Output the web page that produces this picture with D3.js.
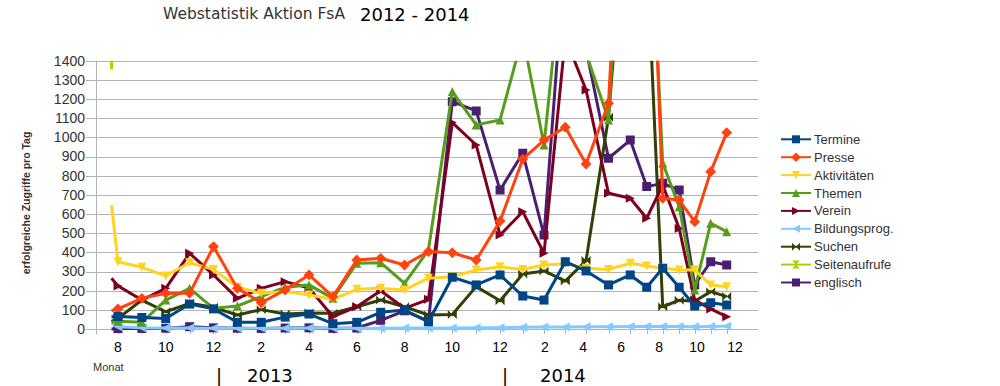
<!DOCTYPE html>
<meta charset="utf-8">
<style>
body { margin: 0; background: #fff; }
text { font-family: "Liberation Sans", Arial, sans-serif; }
.year { font-family: "DejaVu Sans", sans-serif; font-size: 18px; fill: #000; }
.grid line { stroke: #b3b3b3; stroke-width: 1px; }
.series path.line { fill: none; stroke-width: 3px; stroke-linejoin: round; }
</style>
<svg width="1000" height="386"></svg>
<script src="https://d3js.org/d3.v7.min.js"></script>
<script>

// position of each data point along the month axis (0 = Aug 2012)
var monthPos = [-0.27, 0, 1, 2, 3, 4, 5, 6, 7, 8, 9, 10, 11, 12, 13, 14, 15, 16,
    16.95, 17.84, 18.73, 19.6, 20.54, 21.45, 22.14, 22.81, 23.5, 24.15, 24.82, 25.49];

var tickPos = [0, 2, 4, 6, 8, 10, 12, 14, 16, 17.88, 19.48, 21.07, 22.66, 24.25, 25.84];
var tickLabels = ["8", "10", "12", "2", "4", "6", "8", "10", "12", "2", "4", "6", "8", "10", "12"];
var yTicks = d3.range(0, 1401, 100);

var names = ["Termine", "Presse", "Aktivitäten", "Themen", "Verein", "Bildungsprog.", "Suchen", "Seitenaufrufe", "englisch"];
var colors = ["#004586", "#ff420e", "#ffd320", "#579d1c", "#7e0021", "#83caff", "#314004", "#aecf00", "#4b1f6f"];
var shapes = ["square", "diamond", "down", "up", "right", "left", "bowtie", "hourglass", "square"];

var termine = [64, 65, 60, 55, 130, 105, 35, 35, 62, 78, 28, 35, 87, 99, 38, 270, 230, 282, 172, 151, 351, 303, 230, 282, 218, 317, 218, 120, 137, 125];
var presse = [95, 105, 160, 186, 186, 430, 212, 137, 204, 282, 169, 360, 369, 334, 404, 398, 360, 563, 886, 986, 1053, 861, 1178, 3300, 2900, 682, 673, 560, 821, 1025];
var aktivitaeten = [647, 351, 322, 277, 346, 311, 218, 186, 195, 177, 155, 207, 212, 204, 265, 273, 308, 325, 311, 334, 340, 317, 311, 343, 329, 317, 308, 308, 230, 221];
var themen = [35, 40, 35, 151, 212, 108, 120, 169, 218, 230, 160, 343, 346, 238, 412, 1239, 1065, 1091, 1530, 960, 2035, 1440, 1091, 3000, 2590, 866, 638, 204, 552, 508];
var verein = [265, 225, 151, 212, 395, 282, 160, 212, 247, 214, 64, 116, 200, 108, 155, 1077, 960, 490, 612, 395, 1520, 1247, 708, 682, 578, 751, 525, 151, 105, 64];
var bildung = [30, 12, 6, 5, 5, 4, 4, 4, 4, 5, 5, 4, 4, 5, 5, 5, 6, 7, 9, 10, 11, 12, 12, 13, 13, 13, 13, 12, 13, 15];
var suchen = [40, 55, 151, 90, 134, 113, 73, 101, 78, 84, 82, 116, 151, 116, 73, 76, 221, 147, 287, 303, 250, 357, 1105, 2500, 1985, 116, 150, 145, 195, 169];
var seitenaufrufe = [1355, 4200, 4100, 4300, 4500, 4400, 4600, 4500, 4700, 4800, 4600, 4900, 5000, 5100, 5200, 6400, 6200, 6300, 6800, 6500, 7000, 6900, 7200, 7600, 7400, 6800, 6600, 6000, 6200, 6300];
var englisch = [0, 2, 3, 4, 12, 6, 4, 3, 5, 6, 3, 5, 45, 95, 40, 1186, 1138, 725, 917, 490, 1970, 1460, 891, 986, 743, 760, 725, 230, 351, 334];

var values = [termine, presse, aktivitaeten, themen, verein, bildung, suchen, seitenaufrufe, englisch];

var svg = d3.select("svg");

var x = d3.scaleLinear().domain([-0.92, 26.8]).range([96, 758]);
var y = d3.scaleLinear().domain([0, 1400]).range([329, 60.7]);

function markerPath(kind, r) {
    switch (kind) {
        case "square": return "M" + -r + "," + -r + "h" + 2 * r + "v" + 2 * r + "h" + -2 * r + "Z";
        case "diamond": return "M0," + -r * 1.2 + "L" + r * 1.2 + ",0L0," + r * 1.2 + "L" + -r * 1.2 + ",0Z";
        case "down": return "M" + -r + "," + -r + "L" + r + "," + -r + "L0," + r + "Z";
        case "up": return "M" + -r + "," + r + "L" + r + "," + r + "L0," + -r + "Z";
        case "right": return "M" + -r + "," + -r + "L" + r + ",0L" + -r + "," + r + "Z";
        case "left": return "M" + r + "," + -r + "L" + -r + ",0L" + r + "," + r + "Z";
        case "bowtie": return "M" + -r + "," + -r + "L0,0L" + r + "," + -r + "L" + r + "," + r + "L0,0L" + -r + "," + r + "Z";
        case "hourglass": return "M" + -r + "," + -r + "L" + r + "," + -r + "L0,0L" + r + "," + r + "L" + -r + "," + r + "L0,0Z";
    }
}

// title
svg.append("text").attr("x", 163).attr("y", 18.5)
    .style("font-family", "'DejaVu Sans', sans-serif")
    .style("font-size", "15.5px").style("fill", "#333")
    .text("Webstatistik Aktion FsA");
svg.append("text").attr("class", "year").attr("x", 360).attr("y", 20.7).text("2012 - 2014");

// grid
svg.append("g").attr("class", "grid")
    .selectAll("line").data(yTicks).join("line")
    .attr("x1", 86).attr("x2", 758)
    .attr("y1", function(d) { return Math.round(y(d)) + 0.5; })
    .attr("y2", function(d) { return Math.round(y(d)) + 0.5; });

svg.append("line").attr("x1", 96.5).attr("x2", 96.5).attr("y1", y(1400)).attr("y2", 334)
    .style("stroke", "#b3b3b3");

svg.append("g").attr("class", "grid")
    .selectAll("line").data(monthPos.slice(1)).join("line")
    .attr("x1", function(d) { return Math.round(x(d)) + 0.5; })
    .attr("x2", function(d) { return Math.round(x(d)) + 0.5; })
    .attr("y1", 329).attr("y2", 334);

// y labels
svg.append("g").selectAll("text").data(yTicks).join("text")
    .attr("x", 85).attr("y", function(d) { return y(d); }).attr("dy", "0.35em")
    .attr("text-anchor", "end")
    .style("font-size", "14px").style("fill", "#333")
    .text(function(d) { return d; });

svg.append("text")
    .attr("transform", "translate(30,203) rotate(-90)")
    .attr("text-anchor", "middle")
    .style("font-size", "10.5px").style("font-weight", "bold").style("fill", "#333")
    .text("erfolgreiche Zugriffe pro Tag");

// x labels
svg.append("g").selectAll("text").data(tickPos).join("text")
    .attr("x", function(d) { return x(d); }).attr("y", 352)
    .attr("text-anchor", "middle")
    .style("font-size", "14px").style("fill", "#000")
    .text(function(d, i) { return tickLabels[i]; });

svg.append("text").attr("x", 93).attr("y", 370.5)
    .style("font-size", "11px").style("fill", "#333").text("Monat");

svg.append("text").attr("class", "year").attr("x", 219).attr("y", 382).attr("text-anchor", "middle").text("|");
svg.append("text").attr("class", "year").attr("x", 247).attr("y", 382).text("2013");
svg.append("text").attr("class", "year").attr("x", 505).attr("y", 382).attr("text-anchor", "middle").text("|");
svg.append("text").attr("class", "year").attr("x", 540).attr("y", 382).text("2014");

// series
svg.append("defs").append("clipPath").attr("id", "clip")
    .append("rect").attr("x", 96).attr("y", y(1400)).attr("width", 662).attr("height", 340 - y(1400));

var line = d3.line()
    .x(function(d, i) { return x(monthPos[i]); })
    .y(function(d) { return y(d); });

var plot = svg.append("g").attr("clip-path", "url(#clip)");

var order = d3.range(names.length).reverse();
order.forEach(function(k) {
    var g = plot.append("g").attr("class", "series");
    g.append("path").attr("class", "line").datum(values[k])
        .attr("d", line).style("stroke", colors[k]);
    g.selectAll("path.mark").data(values[k].slice(1)).join("path")
        .attr("class", "mark")
        .attr("transform", function(d, i) { return "translate(" + x(monthPos[i + 1]) + "," + y(d) + ")"; })
        .attr("d", markerPath(shapes[k], 4.5))
        .style("fill", colors[k]);
});

// legend
var legend = svg.append("g").selectAll("g").data(names).join("g")
    .attr("transform", function(d, i) { return "translate(0," + (139.3 + i * 17.9) + ")"; });
legend.append("line").attr("x1", 781).attr("x2", 811).attr("y1", 0).attr("y2", 0)
    .style("stroke", function(d, i) { return colors[i]; }).style("stroke-width", 2);
legend.append("path")
    .attr("transform", "translate(796,0)")
    .attr("d", function(d, i) { return markerPath(shapes[i], 4); })
    .style("fill", function(d, i) { return colors[i]; });
legend.append("text").attr("x", 814).attr("y", 0).attr("dy", "0.35em")
    .style("font-size", "13px").style("fill", "#333")
    .text(function(d) { return d; });

</script>
